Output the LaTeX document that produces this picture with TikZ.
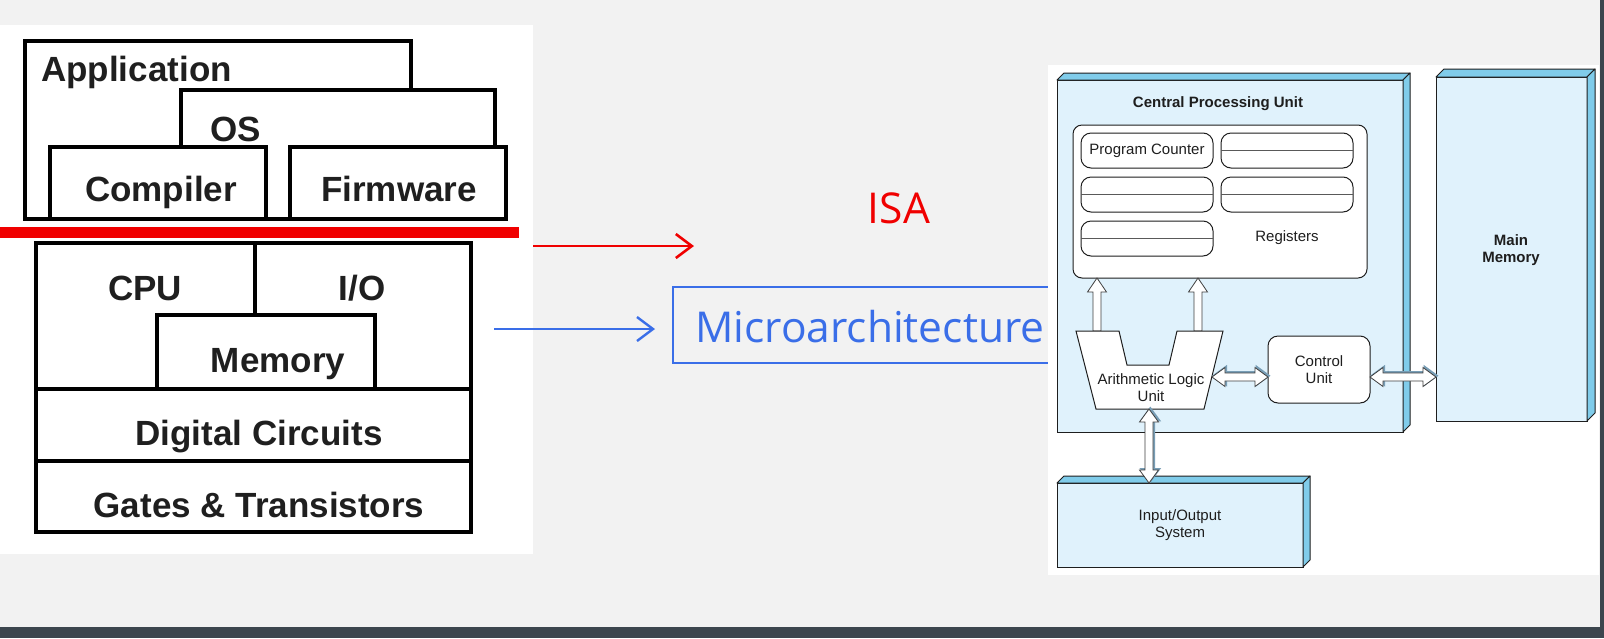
\documentclass[tikz,border=0pt]{standalone}
\usepackage{fontspec}
\setmainfont{Liberation Sans}
\newfontfamily\slidefont{Open Sans}
\usetikzlibrary{arrows.meta,calc}

\definecolor{slidebg}{RGB}{242,242,242}
\definecolor{slidedark}{RGB}{60,70,78}
\definecolor{isared}{RGB}{240,0,0}
\definecolor{uarchblue}{RGB}{58,110,232}
\definecolor{cpufront}{RGB}{224,242,252}
\definecolor{cpuside}{RGB}{128,204,234}
\definecolor{arrowshade}{RGB}{120,158,182}
\definecolor{inkline}{RGB}{30,30,30}

% horizontal hollow double arrow between two points
\newcommand\hbiarrowpath[3]{%
  \draw[#1] let \p1=(#2), \p2=(#3) in
    (\x1,\y1) -- (\x1+13pt,\y1+9.5pt) -- (\x1+13pt,\y1+4pt)
    -- (\x2-13pt,\y2+4pt) -- (\x2-13pt,\y2+9.5pt) -- (\x2,\y2)
    -- (\x2-13pt,\y2-9.5pt) -- (\x2-13pt,\y2-4pt)
    -- (\x1+13pt,\y1-4pt) -- (\x1+13pt,\y1-9.5pt) -- cycle;}
% vertical hollow double arrow, first point is the upper tip
\newcommand\vbiarrowpath[3]{%
  \draw[#1] let \p1=(#2), \p2=(#3) in
    (\x1,\y1) -- (\x1+9.5pt,\y1-13pt) -- (\x1+4pt,\y1-13pt)
    -- (\x2+4pt,\y2+13pt) -- (\x2+9.5pt,\y2+13pt) -- (\x2,\y2)
    -- (\x2-9.5pt,\y2+13pt) -- (\x2-4pt,\y2+13pt)
    -- (\x1-4pt,\y1-13pt) -- (\x1-9.5pt,\y1-13pt) -- cycle;}
\newcommand\hbiarrow[2]{%
  \begin{scope}[transform canvas={xshift=1.3pt,yshift=1.3pt}]\hbiarrowpath{arrowshadow}{#1}{#2}\end{scope}%
  \hbiarrowpath{blockarrow}{#1}{#2}}
\newcommand\vbiarrow[2]{%
  \begin{scope}[transform canvas={xshift=1.3pt,yshift=1.3pt}]\vbiarrowpath{arrowshadow}{#1}{#2}\end{scope}%
  \vbiarrowpath{blockarrow}{#1}{#2}}
% single hollow arrow pointing up: base, tip
\newcommand\blockup[2]{%
  \draw[blockarrow] let \p1=(#1), \p2=(#2) in
    (\x1-4pt,\y1) -- (\x2-4pt,\y2-14pt) -- (\x2-9.5pt,\y2-14pt) -- (\x2,\y2)
    -- (\x2+9.5pt,\y2-14pt) -- (\x2+4pt,\y2-14pt) -- (\x1+4pt,\y1) -- cycle;}
% top and right faces of an extruded box
\newcommand\drawsides[2]{%
  \filldraw[sideface] (#1.north west) -- ++(#2,-#2) -- ($(#1.north east)+(#2,-#2)$) -- (#1.north east) -- cycle;
  \filldraw[sideface] (#1.north east) -- ++(#2,-#2) -- ($(#1.south east)+(#2,-#2)$) -- (#1.south east) -- cycle;}

\begin{document}
\begin{tikzpicture}[x=1pt,y=-1pt,
  layerbox/.style={draw=black, line width=3.6pt, fill=white, inner sep=0pt, outer sep=0pt, anchor=north west},
  layerline/.style={draw=black, line width=3.6pt},
  layertext/.style={font=\fontsize{35}{40}\selectfont\bfseries, text=black!88, inner sep=0pt, anchor=base},
  isaarrow/.style={draw=isared, line width=2.6pt, -{Straight Barb[length=16pt,width=24pt]}},
  uarrow/.style={draw=uarchblue, line width=2.4pt, -{Straight Barb[length=16pt,width=24pt]}},
  slidetext/.style={font=\slidefont\fontsize{42.5}{48}\selectfont, inner sep=0pt},
  panelfont/.style={font=\fontsize{15}{17}\selectfont, text=inkline, inner sep=0pt, align=center},
  solid3d/.style={draw=inkline, line width=1pt, fill=cpufront, inner sep=0pt, outer sep=0pt, anchor=north west},
  sideface/.style={draw=inkline, line width=1pt, fill=cpuside, line join=round},
  roundbox/.style={draw=inkline, line width=1pt, fill=white, inner sep=0pt, outer sep=0pt, anchor=north west, rounded corners=#1},
  roundbox/.default=9pt,
  regcell/.style={roundbox=10pt, minimum width=132pt, minimum height=35pt, panelfont},
  cellline/.style={draw=black!65, line width=0.9pt},
  blockarrow/.style={draw=black!75, line width=0.8pt, fill=white, line join=miter},
  arrowshadow/.style={draw=arrowshade, line width=1.4pt, fill=arrowshade, line join=miter},
  aluface/.style={draw=inkline, line width=1pt, fill=white, line join=miter}
]
\useasboundingbox (0,0) rectangle (1604,638);
\fill[slidebg] (0,0) rectangle (1604,638);
\fill[slidedark] (0,627) rectangle (1604,638);
\fill[slidedark] (1600,0) rectangle (1604,638);

% ---- abstraction layers ----
\fill[white] (0,25) rectangle (533,554);
\node[layerbox, minimum width=386pt, minimum height=178pt] (app) at (25,41) {};
\node[layerbox, minimum width=314pt, minimum height=129pt] (os) at (181,90) {};
\node[layerbox, minimum width=216pt, minimum height=72pt] (compiler) at (50,147) {};
\node[layerbox, minimum width=216pt, minimum height=72pt] (firmware) at (290,147) {};
\node[layertext, anchor=base west] (applabel) at (41,81) {Application};
\node[layertext] (oslabel) at (236,141) {OS};
\node[layertext] (complabel) at (161,201) {Compiler};
\node[layertext] (firmlabel) at (399,201) {Firmware};

\draw[isared, line width=11pt] (0,232) -- (519,232);

\node[layerbox, minimum width=435pt, minimum height=289pt] (hw) at (36,243) {};
\draw[layerline] (255,243) -- (255,315);
\node[layerbox, minimum width=218pt, minimum height=74pt] (memory) at (157,315) {};
\draw[layerline] (36,389) -- (471,389);
\draw[layerline] (36,461) -- (471,461);
\node[layertext] (cpulayer) at (145,300) {CPU};
\node[layertext] (iolayer) at (362,300) {I/O};
\node[layertext] (memlabel) at (278,372) {Memory};
\node[layertext] (dclabel) at (259,445) {Digital Circuits};
\node[layertext] (gtlabel) at (259,517) {Gates \& Transistors};

% ---- ISA and microarchitecture ----
\node[slidetext, text=isared, anchor=base] (isa) at (899,223) {ISA};
\coordinate (isafrom) at (533,246);
\coordinate (isato) at (694,246);
\draw[isaarrow] (isafrom) -- (isato);

\node[draw=uarchblue, line width=1.8pt, inner sep=0pt, outer sep=0pt, anchor=north west,
      minimum width=440pt, minimum height=76pt] (uarchbox) at (673,287) {};
\node[slidetext, text=uarchblue, anchor=base west] (uarch) at (695,342) {Microarchitecture};
\coordinate (uafrom) at (494,329);
\coordinate (uato) at (655,329);
\draw[uarrow] (uafrom) -- (uato);

% ---- von Neumann machine ----
\fill[white] (1048,65) rectangle (1599,575);

\node[solid3d, minimum width=346pt, minimum height=352pt] (cpu) at (1057,80) {};
\drawsides{cpu}{7}
\node[panelfont, font=\fontsize{15}{17}\selectfont\bfseries] (cpulabel) at (1218,104) {Central Processing Unit};

\node[roundbox=9pt, minimum width=294pt, minimum height=153pt] (regs) at (1073,125) {};
\node[regcell] (pc) at (1081,133) {Program Counter};
\node[regcell] (rega) at (1221,133) {};
\node[regcell] (regb) at (1081,177) {};
\node[regcell] (regc) at (1221,177) {};
\node[regcell] (regd) at (1081,221) {};
\foreach \r in {rega,regb,regc,regd} \draw[cellline] (\r.west) -- (\r.east);
\node[panelfont] (reglabel) at (1287,238) {Registers};

\coordinate (aluoutl) at (1097,331);
\coordinate (aluoutr) at (1198,331);
\blockup{aluoutl}{aluoutl |- regs.south}
\blockup{aluoutr}{aluoutr |- regs.south}

\filldraw[aluface] (1076,331) -- (1119,331) -- (1127,365) -- (1169,365) -- (1177,331)
  -- (1223,331) -- (1204,409) -- (1096,409) -- cycle;
\node[panelfont] (alu) at (1151,388) {Arithmetic Logic\\Unit};

\node[roundbox=10pt, minimum width=102pt, minimum height=67pt, panelfont] (cu) at (1268,336) {Control\\Unit};

\node[solid3d, minimum width=151pt, minimum height=344pt] (mm) at (1436,77) {};
\drawsides{mm}{8}
\node[panelfont, font=\fontsize{15}{17}\selectfont\bfseries] (mmlabel) at (1511,250) {Main\\Memory};

\node[solid3d, minimum width=246pt, minimum height=84pt, panelfont] (io) at (1057,483) {Input/Output\\System};
\drawsides{io}{7}

\coordinate (alur) at (1212,377);
\hbiarrow{alur}{alur -| cu.west}
\hbiarrow{alur -| cu.east}{alur -| mm.west}
\coordinate (alub) at (1149,409);
\vbiarrow{alub}{alub |- io.north}
\end{tikzpicture}
\end{document}
